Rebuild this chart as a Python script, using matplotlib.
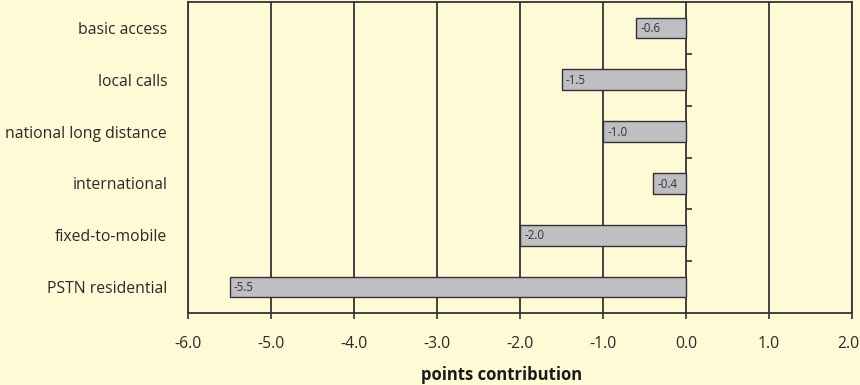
import matplotlib.pyplot as plt
from matplotlib.ticker import MultipleLocator
from matplotlib.transforms import ScaledTranslation

# contribution of each residential PSTN component (points)
categories = ["basic access", "local calls", "national long distance",
              "international", "fixed-to-mobile", "PSTN residential"]
values = [-0.6, -1.5, -1.0, -0.4, -2.0, -5.5]

bg = "#FFFAD6"
dark = "#333333"
plt.rcParams["font.family"] = ["Open Sans", "DejaVu Sans"]

fig = plt.figure(figsize=(8.6, 3.85), dpi=100, facecolor=bg)
ax = fig.add_axes([188/860, 1 - 313/385, (852-188)/860, (313-2)/385])
ax.set_facecolor(bg)

ypos = list(range(len(categories)))
ax.barh(ypos, values, height=0.40, color="#BEBEC3", edgecolor=dark,
        linewidth=1.0, zorder=3)
for y, v in zip(ypos, values):
    ax.annotate(f"{v:.1f}", (v, y), xytext=(3.2, -0.5), textcoords="offset points",
                ha="left", va="center", fontsize=8.3, color="#333333", zorder=4)

ax.set_xlim(-6, 2)
ax.set_ylim(len(categories) - 0.5, -0.5)
ax.set_xticks([-6, -5, -4, -3, -2, -1, 0, 1, 2])
ax.xaxis.set_major_formatter(lambda x, pos: f"{x:.1f}")
ax.grid(axis="x", color=dark, linewidth=1.3, zorder=1)
ax.tick_params(axis="x", length=4, width=1.2, color=dark, pad=12.5,
               labelsize=11.3, labelcolor="#2a2a2a")

ax.set_yticks(ypos)
ax.set_yticklabels(categories)
ax.tick_params(axis="y", length=0, pad=15, labelsize=11.3, labelcolor="#2a2a2a")

for s in ax.spines.values():
    s.set_color(dark)
    s.set_linewidth(1.3)

# category axis crossing at zero with tick marks between categories
sec = ax.secondary_yaxis(6 / 8)
sec.spines["right"].set_visible(False)
sec.spines["left"].set_color(dark)
sec.spines["left"].set_linewidth(1.3)
sec.set_yticks([y + 0.5 for y in ypos[:-1]])
sec.set_yticklabels([])
sec.tick_params(axis="y", length=4.5, width=1.2, color=dark, direction="out")

fig.text(502/860, 1 - 375/385, "points contribution", ha="center", va="center",
         fontsize=12, fontweight="bold", color="#1a1a1a")

# keep the last tick label inside the figure edge
fig.canvas.draw()
last = ax.get_xticklabels()[-1]
last.set_transform(last.get_transform() + ScaledTranslation(-0.04, 0, fig.dpi_scale_trans))

fig.savefig("out.png", dpi=100, facecolor=bg)
